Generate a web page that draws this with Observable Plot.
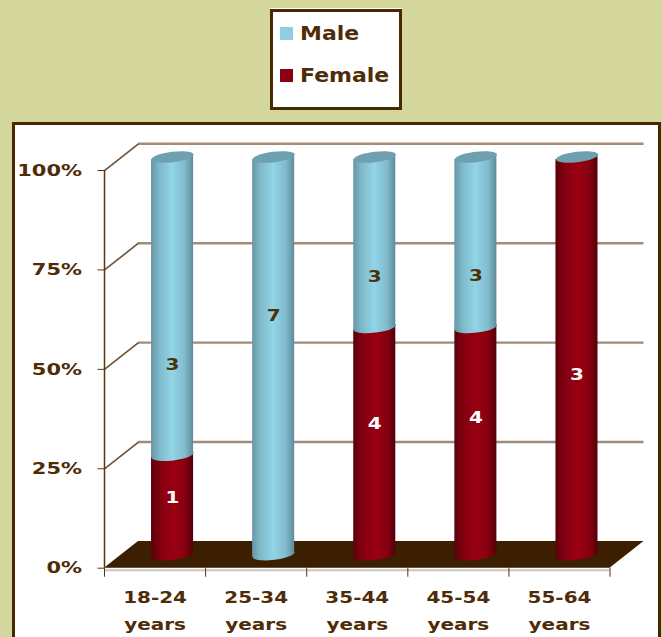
<!DOCTYPE html>
<html>
<head>
<meta charset="utf-8">
<script src="https://cdn.jsdelivr.net/npm/d3@7"></script>
<script src="https://cdn.jsdelivr.net/npm/@observablehq/plot@0.6"></script>
<style>
  html, body { margin: 0; padding: 0; width: 662px; height: 637px; overflow: hidden; background: #d3d79b; }
  body { position: relative; font-family: "DejaVu Sans", sans-serif; font-weight: bold; color: #4f2c08; }
  #legend { position: absolute; left: 270px; top: 9px; width: 126px; height: 95px; background: #fff; border: 3px solid #4a2703; box-shadow: 0 -1px 0 #fff; }
  .key { position: absolute; left: 7px; width: 13px; height: 13px; }
  .lab { position: absolute; left: 27px; font-size: 20px; line-height: 24px; transform: scaleX(1.1); transform-origin: left center; }
  #frame { position: absolute; left: 12px; top: 122px; width: 643px; height: 520px; background: #fff; border: 3px solid #4a2703; }
  #frame svg { display: block; }
</style>
</head>
<body>
<div id="legend"></div>
<div id="frame"></div>
<script>
const categories = ["18-24\nyears", "25-34\nyears", "35-44\nyears", "45-54\nyears", "55-64\nyears"];
const male = [3, 7, 3, 3, 0];
const female = [1, 0, 4, 4, 3];
const maleLabelY = [0.512, 0.635, 0.733, 0.736, null];
const femaleLabelY = [0.178, null, 0.364, 0.379, 0.487];
const yTicks = [0, 0.25, 0.5, 0.75, 1];
const xTicks = [0, 1, 2, 3, 4, 5];
const seriesNames = ["Male", "Female"];
const seriesColors = ["#8fcde0", "#8b0012"];
const depthX = 0.336, depthY = 0.0672;
const halfBar = 0.208, tilt = 0.0065;

const rows = categories.map((c, i) => {
  const t = male[i] + female[i];
  return {c, i, m: male[i], f: female[i], fs: female[i] / t, my: maleLabelY[i], fy: femaleLabelY[i]};
});

// each cylinder body is a two-point area whose ends follow the tilt of the ellipses
const body = (lo, hi) => rows.flatMap(d => [-1, 1].map(side => ({
  i: d.i,
  x: d.i + 0.5 + side * halfBar,
  y1: lo(d) + side * tilt,
  y2: hi(d) + side * tilt
})));

// legend
const legend = document.getElementById("legend");
seriesNames.forEach((n, k) => {
  const top = k ? 57 : 15;
  legend.insertAdjacentHTML("beforeend",
    `<div class="key" style="top:${top}px;background:${seriesColors[k]}"></div><div class="lab" style="top:${top - 6}px">${n}</div>`);
});

// tilted ellipse symbol for cylinder ends
const ellipse = {
  draw(ctx) {
    const rx = 21.16, ry = 5.2, a = -7 * Math.PI / 180, k = 0.5523;
    const c = Math.cos(a), s = Math.sin(a);
    const P = (u, v) => [u * rx * c - v * ry * s, u * rx * s + v * ry * c];
    ctx.moveTo(...P(1, 0));
    ctx.bezierCurveTo(...P(1, k), ...P(k, 1), ...P(0, 1));
    ctx.bezierCurveTo(...P(-k, 1), ...P(-1, k), ...P(-1, 0));
    ctx.bezierCurveTo(...P(-1, -k), ...P(-k, -1), ...P(0, -1));
    ctx.bezierCurveTo(...P(k, -1), ...P(1, -k), ...P(1, 0));
    ctx.closePath();
  }
};

function gradients() {
  const defs = d3.create("svg:defs");
  const add = (id, stops) => {
    const g = defs.append("linearGradient").attr("id", id).attr("x1", 0).attr("x2", 1).attr("y1", 0).attr("y2", 0);
    stops.forEach(([o, c]) => g.append("stop").attr("offset", o).attr("stop-color", c));
  };
  add("gMale", [[0, "#6796a6"], [0.2, "#7fbacb"], [0.5, "#92d4e8"], [0.8, "#80bbcc"], [1, "#5f8b9a"]]);
  add("gFemale", [[0, "#5c000a"], [0.25, "#870010"], [0.55, "#9a0012"], [0.8, "#860010"], [1, "#55000a"]]);
  return defs.node();
}

const off = {dx: 17.5, dy: -13.5};
const brown = "#5a3510", textBrown = "#4f2c08";
const labelFont = {fontSize: 16.5, fontWeight: "bold"};
const femaleBody = body(d => 0, d => d.fs).filter(d => female[d.i] > 0);
const maleBody = body(d => d.fs, d => 1).filter(d => male[d.i] > 0);

const plot = Plot.plot({
  width: 643, height: 512,
  marginLeft: 89, marginRight: 14.5, marginTop: 18.3, marginBottom: 69.3,
  x: {domain: [0, 5 + depthX]},
  y: {domain: [0, 1 + depthY]},
  style: {fontFamily: "DejaVu Sans, sans-serif", background: "#fff", overflow: "visible"},
  marks: [
    gradients,
    // back wall grid
    Plot.ruleY(yTicks.slice(1), {y: d => d + depthY, x1: depthX, x2: 5 + depthX, stroke: "#a08c78", strokeWidth: 2.4}),
    Plot.link(yTicks.slice(1), {x1: 0, y1: d => d, x2: depthX, y2: d => d + depthY, stroke: "#6e5032", strokeWidth: 1.6}),
    // floor shadow and floor
    Plot.ruleY([0], {x1: 0, x2: 5, stroke: "#c9c4bd", strokeWidth: 2, dy: 2}),
    Plot.area([0, 5], {x1: d => d, y1: 0, x2: d => d + depthX, y2: depthY, fill: "#3c1e00"}),
    // axis lines
    Plot.ruleX([0], {y1: 0, y2: 1, stroke: brown, strokeWidth: 1.5}),
    Plot.axisY({ticks: yTicks, tickFormat: d3.format(".0%"), tickSize: 6.5, tickPadding: 16, stroke: brown, fill: textBrown, label: null, ...labelFont}),
    Plot.axisX({ticks: xTicks, tickFormat: () => "", tickSize: 9, stroke: brown, label: null}),
    // category labels
    Plot.text(rows, {x: d => d.i + 0.5, y: 0, text: "c", lineAnchor: "top", dy: 15, lineHeight: 1.65, fill: textBrown, ...labelFont}),
    // cylinders
    Plot.dot(rows.filter(d => d.f > 0), {x: d => d.i + 0.5, y: 0, symbol: ellipse, r: 5, fill: "url(#gFemale)", stroke: "none", ...off}),
    Plot.area(femaleBody, {x1: "x", x2: "x", y1: "y1", y2: "y2", z: "i", fill: "url(#gFemale)", ...off}),
    Plot.dot(rows.filter(d => d.m > 0), {x: d => d.i + 0.5, y: d => d.fs, symbol: ellipse, r: 5, fill: "url(#gMale)", stroke: "none", ...off}),
    Plot.area(maleBody, {x1: "x", x2: "x", y1: "y1", y2: "y2", z: "i", fill: "url(#gMale)", ...off}),
    Plot.dot(rows, {x: d => d.i + 0.5, y: 1, symbol: ellipse, r: 5, fill: "#6fa0b0", stroke: "none", ...off}),
    // value labels
    Plot.text(rows.filter(d => d.m > 0), {x: d => d.i + 0.5, y: "my", text: "m", fill: "#4a3208", dx: 17.5, ...labelFont}),
    Plot.text(rows.filter(d => d.f > 0), {x: d => d.i + 0.5, y: "fy", text: "f", fill: "#fff", dx: 17.5, ...labelFont})
  ]
});
document.getElementById("frame").appendChild(plot);

// widen the glyphs to the broad bold face of the original
plot.querySelectorAll("text").forEach(t => {
  const parts = t.querySelectorAll("tspan");
  const isY = t.parentNode.getAttribute("aria-label") === "y-axis tick label";
  (parts.length ? parts : [t]).forEach(el => {
    el.setAttribute("textLength", el.getComputedTextLength() * (isY ? 1.27 : 1.21));
    el.setAttribute("lengthAdjust", "spacingAndGlyphs");
  });
});
</script>
</body>
</html>
